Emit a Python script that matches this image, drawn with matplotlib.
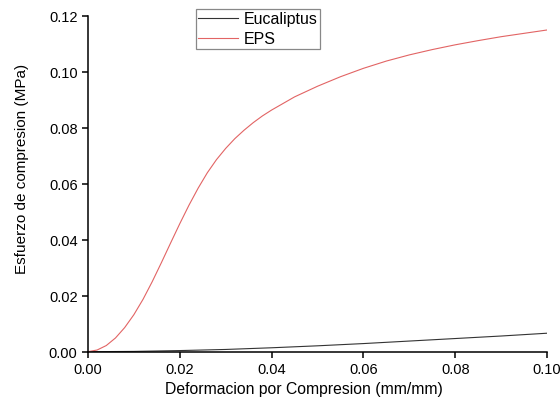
"""
plot.py
-------
Stress-strain curves under compression: Eucaliptus vs EPS.
Output: out.png (560x406)
"""

import matplotlib.pyplot as plt
import matplotlib.ticker as ticker

OUTPUT_CHART = "out.png"

# ── Data ──────────────────────────────────────────────────────────────────────
eps_strain = [0.000, 0.002, 0.004, 0.006, 0.008, 0.010, 0.012, 0.014, 0.016,
              0.018, 0.020, 0.022, 0.024, 0.026, 0.028, 0.030, 0.032, 0.034,
              0.036, 0.038, 0.040, 0.045, 0.050, 0.055, 0.060, 0.065, 0.070,
              0.075, 0.080, 0.085, 0.090, 0.095, 0.100]
eps_stress = [0.0000, 0.0006, 0.0022, 0.0049, 0.0086, 0.0132, 0.0187, 0.0250,
              0.0318, 0.0388, 0.0457, 0.0523, 0.0584, 0.0639, 0.0686, 0.0726,
              0.0761, 0.0791, 0.0818, 0.0842, 0.0863, 0.0910, 0.0948, 0.0982,
              0.1012, 0.1038, 0.1060, 0.1079, 0.1096, 0.1111, 0.1125, 0.1137,
              0.1149]

euc_strain = [0.000, 0.010, 0.020, 0.030, 0.040, 0.050, 0.060, 0.070, 0.080,
              0.090, 0.100]
euc_stress = [0.0000, 0.0001, 0.0004, 0.0008, 0.0014, 0.0021, 0.0029, 0.0038,
              0.0047, 0.0056, 0.0066]

x_ticks = [0.00, 0.02, 0.04, 0.06, 0.08, 0.10]
y_ticks = [0.00, 0.02, 0.04, 0.06, 0.08, 0.10, 0.12]


def plot_curves():
    plt.rcParams['font.family'] = ['Liberation Sans', 'DejaVu Sans']

    fig = plt.figure(figsize=(5.6, 4.06), dpi=100)
    fig.patch.set_facecolor('white')
    ax = fig.add_axes([0.157, 0.1313, 0.820, 0.8276])

    ax.plot(euc_strain, euc_stress, color='#333333', lw=0.8, label='Eucaliptus')
    ax.plot(eps_strain, eps_stress, color='#e26464', lw=0.8, label='EPS')

    ax.set_xlim(0, 0.10)
    ax.set_ylim(0, 0.12)
    ax.set_xticks(x_ticks)
    ax.set_yticks(y_ticks)
    ax.xaxis.set_major_formatter(ticker.FormatStrFormatter('%.2f'))
    ax.yaxis.set_major_formatter(ticker.FormatStrFormatter('%.2f'))
    ax.tick_params(direction='out', length=4.5, width=1.1, labelsize=10.5, pad=3)

    # ── Spines: only left and bottom ─────────────────────────────────────────
    ax.spines['top'].set_visible(False)
    ax.spines['right'].set_visible(False)
    ax.spines['left'].set_linewidth(1.1)
    ax.spines['bottom'].set_linewidth(1.1)

    # ── Axis labels (Origin places them a bit off-centre) ─────────────────────
    ax.set_xlabel('Deformacion por Compresion (mm/mm)', fontsize=11.3)
    ax.set_ylabel('Esfuerzo de compresion (MPa)', fontsize=11)
    ax.xaxis.set_label_coords(0.47, -0.086)
    ax.yaxis.set_label_coords(-0.129, 0.547)

    # ── Legend ────────────────────────────────────────────────────────────────
    leg = ax.legend(loc='upper left', bbox_to_anchor=(0.3495, 0.9754),
                    bbox_transform=fig.transFigure, borderaxespad=0,
                    fontsize=11.5, fancybox=False, framealpha=1,
                    edgecolor='#888888', handlelength=2.5,
                    handletextpad=0.35, borderpad=0.15, labelspacing=0.3)
    leg.get_frame().set_linewidth(0.9)

    fig.savefig(OUTPUT_CHART, dpi=100)
    plt.close(fig)


if __name__ == "__main__":
    plot_curves()
